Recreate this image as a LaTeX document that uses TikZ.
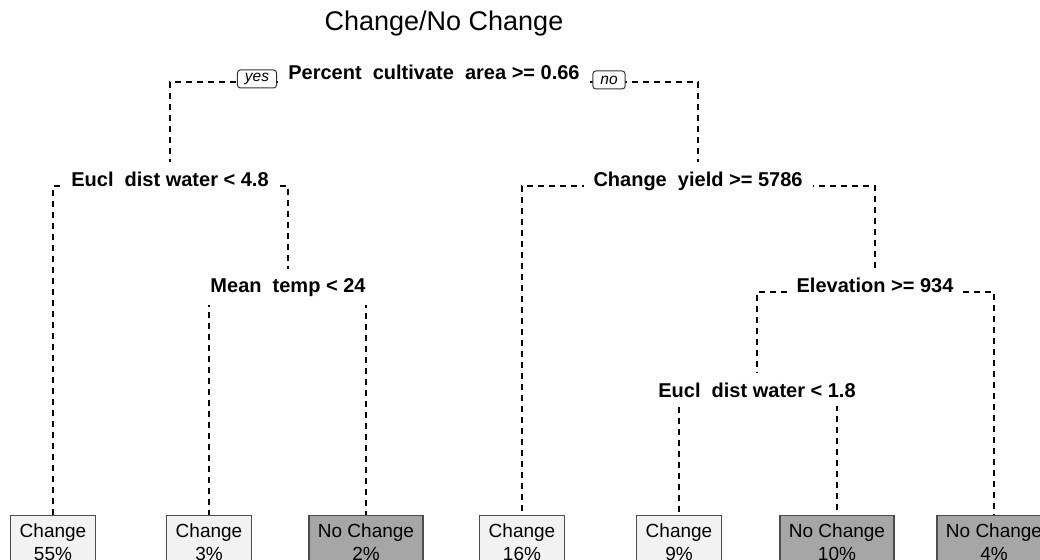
\documentclass[tikz,border=0pt]{standalone}
\usepackage{fontspec}
\setmainfont{Liberation Sans}
\usetikzlibrary{backgrounds}
\tikzset{
 split/.style={fill=white, inner xsep=10pt, inner ysep=9pt, font=\fontsize{20}{24}\selectfont\bfseries, anchor=base},
 leafbox/.style={draw=black!70, line width=1.4pt, anchor=north, align=center, inner xsep=9pt, inner ysep=8pt, font=\fontsize{19}{23}\selectfont},
 chg/.style={leafbox, fill=black!5},
 nochg/.style={leafbox, fill=black!35},
 dl/.style={draw=black, line width=1.2pt, dash pattern=on 6pt off 5pt},
 yn/.style={draw=black!80, fill=white, rounded corners=3pt, line width=1pt, font=\fontsize{15.5}{15.5}\selectfont\itshape, inner xsep=7.5pt, inner ysep=3pt, minimum height=18pt}
}
\begin{document}
\begin{tikzpicture}[x=1pt,y=-1pt]
\useasboundingbox (0,0) rectangle (1040,559);
\clip (0,0) rectangle (1040,559);
\node[font=\fontsize{27}{32}\selectfont, anchor=base] (title) at (444,31) {Change/No Change};
% split nodes
\node[split] (root) at (434,80) {Percent~~cultivate~~area >= 0.66};
\node[yn] (yes) at (257,79) {yes};
\node[yn] (no) at (609,80) {no};
\node[split] (e1) at (170,186) {Eucl~~dist water < 4.8};
\node[split] (mt) at (288,292) {Mean~~temp < 24};
\node[split] (cy) at (698,186) {Change~~yield >= 5786};
\node[split] (el) at (875,292) {Elevation >= 934};
\node[split] (e2) at (757,397) {Eucl~~dist water < 1.8};
% leaves
\node[chg] (l1) at (53,515) {Change\\55\%};
\node[chg] (l2) at (209,515) {Change\\3\%};
\node[nochg] (l3) at (366,515) {No Change\\2\%};
\node[chg] (l4) at (522,515) {Change\\16\%};
\node[chg] (l5) at (679,515) {Change\\9\%};
\node[nochg] (l6) at (837,515) {No Change\\10\%};
\node[nochg] (l7) at (994,515) {No Change\\4\%};
\begin{pgfonlayer}{background}
\draw[dl] ([yshift=-2pt]root.base) -| (e1.north);
\draw[dl] ([yshift=-2pt]root.base) -| (cy.north);
\draw[dl] (e1.base) -| (l1.north);
\draw[dl] (e1.base) -| (mt.north);
\draw[dl] (mt.base) -| (l2.north);
\draw[dl] (mt.base) -| (l3.north);
\draw[dl] (cy.base) -| (l4.north);
\draw[dl] (cy.base) -| (el.north);
\draw[dl] (el.base) -| (e2.north);
\draw[dl] (el.base) -| (l7.north);
\draw[dl] (e2.base) -| (l5.north);
\draw[dl] (e2.base) -| (l6.north);
\end{pgfonlayer}
\end{tikzpicture}
\end{document}
